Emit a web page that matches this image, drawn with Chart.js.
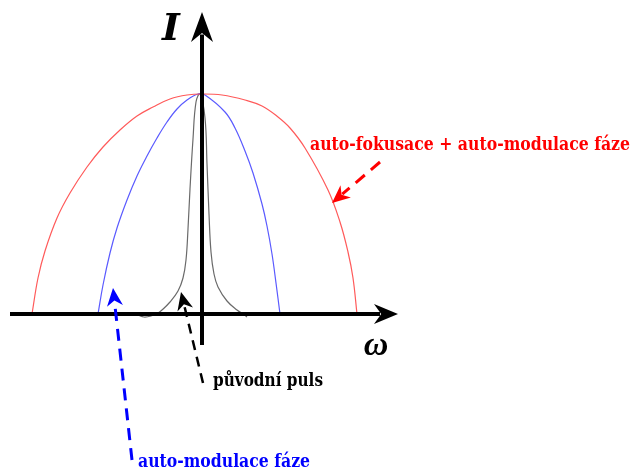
<!DOCTYPE html>
<html>
<head>
<meta charset="utf-8">
<script src="https://cdn.jsdelivr.net/npm/chart.js@4.4.1/dist/chart.umd.min.js"></script>
<style>
  html, body { margin: 0; padding: 0; background: #fff; }
  #wrap { width: 636px; height: 473px; position: relative; }
</style>
</head>
<body>
<div id="wrap"><canvas id="spectrumCanvas"></canvas></div>
<script>
// body krivek: [omega, I]
var redCurve = [[-170,0],[-164,36],[-157,63],[-145,96],[-132,121],[-115,147],[-99,167],[-82,184],[-65,198],[-49,207],[-32,215],[-15,219],[0,220],[20,219],[43,214],[60,208],[76,197],[88,186],[103,166],[126,124],[138,92],[146,62],[151,36],[155,0]];
var blueCurve = [[-104,0],[-99,29],[-92,61],[-85,86],[-75,114],[-65,138],[-55,158],[-45,176],[-35,192],[-25,205],[-15,214],[-4,220],[3,219],[23,202],[33,186],[43,163],[51,141],[60,110],[65,88],[70,60],[74,31],[78,0]];
var blackCurve = [[-64,-1],[-58,-3],[-51,-2],[-44,1],[-40,4],[-32,12],[-24,23],[-19,36],[-16,54],[-14,85],[-12,125],[-9,175],[-6,212],[-2,220],[3,196],[5,150],[7,100],[9,62],[12,40],[16,27],[25,13],[35,4],[41,0],[45,-3]];
var seriesNames = ["auto-fokusace + auto-modulace fáze", "auto-modulace fáze", "původní puls"];
var axisLabels = ["I", "\u03c9"];

function toPoints(arr) {
    return arr.map(function(p){ return {x: p[0], y: p[1]}; });
}

// sipka s "ostnem"
function drawArrow(ctx, x1, y1, x2, y2, color, width, dash, headLen, headHalf) {
    var ang = Math.atan2(y2 - y1, x2 - x1);
    var bx = x2 - Math.cos(ang) * headLen * 0.75;
    var by = y2 - Math.sin(ang) * headLen * 0.75;
    ctx.save();
    ctx.strokeStyle = color;
    ctx.fillStyle = color;
    ctx.lineWidth = width;
    ctx.setLineDash(dash);
    ctx.beginPath();
    ctx.moveTo(x1, y1);
    ctx.lineTo(bx, by);
    ctx.stroke();
    ctx.setLineDash([]);
    var cx = x2 - Math.cos(ang) * headLen;
    var cy = y2 - Math.sin(ang) * headLen;
    var px = -Math.sin(ang), py = Math.cos(ang);
    ctx.beginPath();
    ctx.moveTo(x2, y2);
    ctx.lineTo(cx + px * headHalf, cy + py * headHalf);
    ctx.lineTo(x2 - Math.cos(ang) * headLen * 0.7, y2 - Math.sin(ang) * headLen * 0.7);
    ctx.lineTo(cx - px * headHalf, cy - py * headHalf);
    ctx.closePath();
    ctx.fill();
    ctx.restore();
}

var overlay = {
    id: "overlay",
    afterDatasetsDraw: function(chart) {
        var ctx = chart.ctx;
        var xs = chart.scales.x, ys = chart.scales.y;
        function X(v){ return xs.getPixelForValue(v); }
        function Y(v){ return ys.getPixelForValue(v); }

        // osy
        drawArrow(ctx, X(-192), Y(0), X(196), Y(0), "#000", 4, [], 24, 10);
        drawArrow(ctx, X(0), Y(-31), X(0), Y(302), "#000", 4, [], 30, 11);

        ctx.save();
        ctx.fillStyle = "#000";
        ctx.textAlign = "center";
        ctx.textBaseline = "alphabetic";
        ctx.font = "italic bold 38px 'DejaVu Serif', 'Liberation Serif', serif";
        ctx.fillText(axisLabels[0], X(-31), Y(274));
        ctx.font = "italic bold 34px 'Liberation Serif', 'DejaVu Serif', serif";
        ctx.fillText(axisLabels[1], X(174), Y(-41));
        ctx.restore();

        // popisky
        ctx.save();
        ctx.textAlign = "left";
        ctx.textBaseline = "alphabetic";
        ctx.font = "bold 19px 'DejaVu Serif Condensed', 'DejaVu Serif', serif";
        ctx.fillStyle = "#ff0000";
        ctx.fillText(seriesNames[0], X(108), Y(164), 320);
        ctx.fillStyle = "#0000ff";
        ctx.fillText(seriesNames[1], X(-64), Y(-153), 172);
        ctx.fillStyle = "#000";
        ctx.font = "bold 18px 'DejaVu Serif Condensed', 'DejaVu Serif', serif";
        ctx.fillText(seriesNames[2], X(11), Y(-72), 110);
        ctx.restore();

        // carkovane sipky
        drawArrow(ctx, X(178), Y(152), X(130), Y(111), "#ff0000", 3, [12, 8], 18, 8);
        drawArrow(ctx, X(-70), Y(-146), X(-89), Y(26), "#0000ff", 3, [12, 8], 18, 8);
        drawArrow(ctx, X(1), Y(-69), X(-21), Y(22), "#000", 2.5, [10, 7], 18, 8);
    }
};

var ctx = document.getElementById("spectrumCanvas");
var lineChart = new Chart(ctx, {
    type: "line",
    data: {
        datasets: [{
            label: seriesNames[0],
            data: toPoints(redCurve),
            borderColor: "#ff5a5a",
            borderWidth: 1.2,
            pointRadius: 0,
            tension: 0.4,
            fill: false
        }, {
            label: seriesNames[1],
            data: toPoints(blueCurve),
            borderColor: "#5a5aff",
            borderWidth: 1.2,
            pointRadius: 0,
            tension: 0.4,
            fill: false
        }, {
            label: seriesNames[2],
            data: toPoints(blackCurve),
            borderColor: "#6a6a6a",
            borderWidth: 1.2,
            pointRadius: 0,
            tension: 0.4,
            fill: false
        }]
    },
    options: {
        responsive: true,
        maintainAspectRatio: false,
        animation: false,
        layout: { padding: 0 },
        plugins: {
            legend: { display: false },
            tooltip: { enabled: false }
        },
        scales: {
            x: { type: "linear", min: -202, max: 434, display: false },
            y: { type: "linear", min: -159, max: 314, display: false }
        }
    },
    plugins: [overlay]
});
</script>
</body>
</html>
